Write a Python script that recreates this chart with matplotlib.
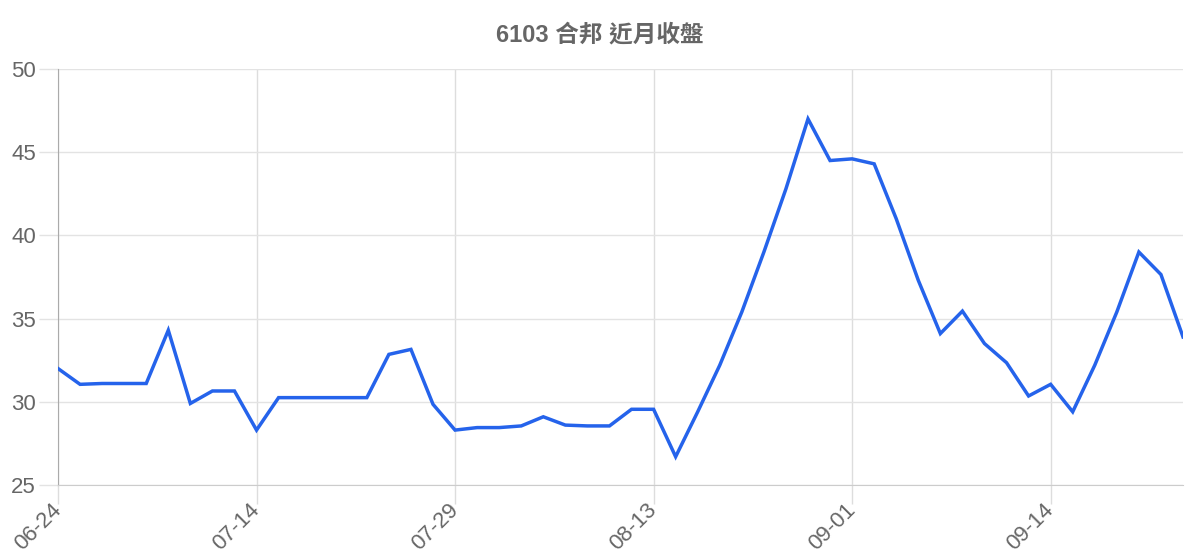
import matplotlib
matplotlib.use("Agg")
import matplotlib.pyplot as plt
import numpy as np

# 6103 合邦 closing prices (52 sessions)
closes = [
    32.0, 31.05, 31.1, 31.1, 31.1, 34.3, 29.9, 30.65, 30.65, 28.3,
    30.25, 30.25, 30.25, 30.25, 30.25, 32.85, 33.15, 29.85, 28.3, 28.45,
    28.45, 28.55, 29.1, 28.6, 28.55, 28.55, 29.55, 29.55, 26.7, 29.4,
    32.2, 35.4, 39.0, 42.8, 47.0, 44.5, 44.6, 44.3, 41.0, 37.3,
    34.1, 35.45, 33.5, 32.35, 30.35, 31.05, 29.4, 32.2, 35.4, 39.0,
    37.65, 33.9,
]
tick_labels = ["06-24", "07-14", "07-29", "08-13", "09-01", "09-14"]
tick_step = 9
title = "6103 合邦 近月收盤"

TEXT = "#666666"
GRID = "#e3e3e3"

fig = plt.figure(figsize=(12, 5.6), dpi=100)
ax = fig.add_axes([58 / 1200, 75 / 560, 1125 / 1200, 416 / 560])

x = np.arange(len(closes))
ax.plot(x, closes, color="#2563eb", linewidth=2.5, solid_joinstyle="miter", zorder=3)

ax.set_xlim(0, len(closes) - 1)
ax.set_ylim(25, 50)
ax.set_yticks(np.arange(25, 51, 5))
ax.set_xticks(x[::tick_step])
ax.set_xticklabels(tick_labels, rotation=45, ha="right", va="center",
                   rotation_mode="anchor")

ax.grid(True, axis="y", color=GRID, linewidth=1.0, zorder=0)
ax.grid(True, axis="x", color="#dddddd", linewidth=1.0, zorder=0)
for side in ("top", "right"):
    ax.spines[side].set_visible(False)
ax.spines["left"].set_color("#aaaaaa")
ax.spines["bottom"].set_color("#cccccc")

ax.tick_params(axis="y", length=14, width=1, color=GRID, pad=2,
               labelsize=16, labelcolor=TEXT)
ax.tick_params(axis="x", length=14, width=1, color="#dddddd", pad=1.5,
               labelsize=16, labelcolor=TEXT)
for lab in ax.get_xticklabels() + ax.get_yticklabels():
    lab.set_family(["Liberation Sans", "DejaVu Sans"])

fig.text(0.5, 1 - 35 / 560, title, ha="center", va="center",
         fontsize=17, fontweight="bold", color=TEXT,
         family=["Liberation Sans", "Noto Sans CJK TC", "DejaVu Sans"])

fig.savefig("out.png", dpi=100, facecolor="white")
